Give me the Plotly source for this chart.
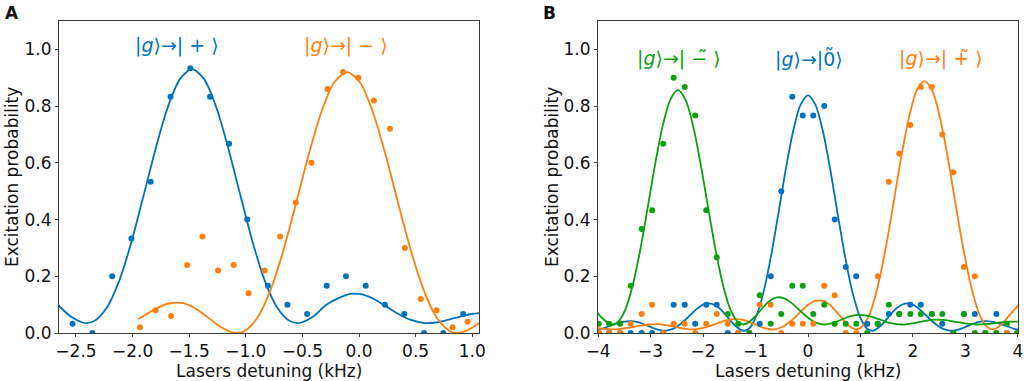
import plotly.graph_objects as go

BLUE = "#0072BD"
ORANGE = "#FF7F0E"
GREEN = "#0CA00C"

# ---------------- Panel A : measured points ----------------
kA_blue_pts = [-2.53, -2.355, -2.18, -2.01, -1.84, -1.665, -1.49, -1.315, -1.148, -0.987, -0.805,
               -0.632, -0.458, -0.285, -0.115, 0.059, 0.229, 0.40, 0.575, 0.745, 0.92]
pA_blue_pts = [0.033, 0.0, 0.20, 0.333, 0.533, 0.833, 0.933, 0.833, 0.667, 0.40, 0.167,
               0.10, 0.067, 0.167, 0.20, 0.167, 0.10, 0.067, 0.0, 0.0, 0.067]

kA_orange_pts = [-1.935, -1.797, -1.66, -1.518, -1.383, -1.245, -1.107, -0.975, -0.834, -0.696, -0.558,
                 -0.42, -0.279, -0.141, -0.006, 0.132, 0.273, 0.405, 0.546, 0.685, 0.826, 0.96]
pA_orange_pts = [0.02, 0.08, 0.06, 0.24, 0.34, 0.22, 0.24, 0.14, 0.22, 0.34, 0.46,
                 0.60, 0.86, 0.92, 0.90, 0.82, 0.72, 0.30, 0.12, 0.08, 0.02, 0.04]

kA_blue_fit = [-2.656, -2.549, -2.442, -2.405, -2.334, -2.227, -2.119, -2.012, -1.905, -1.797, -1.690,
               -1.582, -1.475, -1.368, -1.260, -1.153, -1.045, -0.938, -0.831, -0.723, -0.616, -0.545,
               -0.508, -0.401, -0.294, -0.186, -0.079, 0.029, 0.136, 0.243, 0.351, 0.458, 0.566, 0.605,
               0.673, 0.780, 0.888, 0.995, 1.103]
pA_blue_fit = [0.098, 0.059, 0.037, 0.035, 0.043, 0.090, 0.183, 0.318, 0.481, 0.649, 0.795,
               0.895, 0.930, 0.895, 0.795, 0.649, 0.481, 0.318, 0.183, 0.090, 0.043, 0.035,
               0.037, 0.059, 0.098, 0.122, 0.138, 0.136, 0.119, 0.093, 0.066, 0.046, 0.036, 0.035,
               0.037, 0.046, 0.057, 0.067, 0.071]

kA_orange_fit = [-1.950, -1.907, -1.794, -1.681, -1.569, -1.456, -1.344, -1.231, -1.118, -1.080, -1.006,
                 -0.893, -0.781, -0.668, -0.555, -0.443, -0.330, -0.218, -0.105, 0.008, 0.120, 0.233,
                 0.345, 0.458, 0.571, 0.683, 0.796, 0.870, 0.908, 1.021, 1.134]
pA_orange_fit = [0.049, 0.059, 0.086, 0.104, 0.106, 0.089, 0.058, 0.024, 0.002, 0.0, 0.008,
                 0.056, 0.152, 0.291, 0.459, 0.631, 0.782, 0.884, 0.920, 0.884, 0.782, 0.631,
                 0.459, 0.291, 0.152, 0.056, 0.008, 0.0, 0.002, 0.024, 0.058]

# ---------------- Panel B : measured points ----------------
kB_pts = [-3.99, -3.79, -3.58, -3.38, -3.17, -2.97, -2.76, -2.56, -2.35, -2.15,
          -1.94, -1.74, -1.53, -1.33, -1.12, -0.92, -0.71, -0.51, -0.30, -0.10,
          0.10, 0.31, 0.51, 0.72, 0.92, 1.13, 1.33, 1.54, 1.74, 1.95,
          2.15, 2.36, 2.56, 2.77, 2.97, 3.18, 3.38, 3.59, 3.79, 3.99]
pB_green_pts = [0.033, 0.033, 0.033, 0.167, 0.367, 0.433, 0.667, 0.90, 0.867, 0.767,
                0.433, 0.267, 0.067, 0.033, 0.0, 0.133, 0.033, 0.067, 0.167, 0.167,
                0.067, 0.10, 0.033, 0.033, 0.033, 0.0, 0.033, 0.10, 0.067, 0.067,
                0.067, 0.067, 0.067, 0.0, 0.067, 0.0, 0.0, 0.0, 0.033, 0.0]
pB_blue_pts = [0.0, 0.0, 0.0, 0.0, 0.0, 0.0, 0.0, 0.10, 0.10, 0.033,
               0.10, 0.10, 0.0, 0.0, 0.0, 0.033, 0.20, 0.50, 0.833, 0.767,
               0.767, 0.80, 0.40, 0.233, 0.20, 0.033, 0.033, 0.067, 0.067, 0.10,
               0.10, 0.067, 0.033, 0.0, 0.067, 0.067, 0.0, 0.067, 0.0, 0.0]
pB_orange_pts = [0.0, 0.0, 0.0, 0.033, 0.067, 0.10, 0.0, 0.033, 0.033, 0.0,
                 0.033, 0.067, 0.033, 0.0, 0.0, 0.10, 0.10, 0.0, 0.033, 0.033,
                 0.033, 0.167, 0.133, 0.0, 0.0, 0.0, 0.20, 0.533, 0.633, 0.733,
                 0.867, 0.867, 0.70, 0.567, 0.233, 0.20, 0.0, 0.0, 0.0, 0.0]

kB_green_fit = [-4.064, -3.920, -3.776, -3.727, -3.632, -3.488, -3.344, -3.200, -3.056, -2.912, -2.768,
                -2.624, -2.480, -2.336, -2.192, -2.048, -1.904, -1.760, -1.616, -1.472, -1.328, -1.233,
                -1.184, -1.040, -0.896, -0.752, -0.608, -0.464, -0.320, -0.176, -0.032, 0.112, 0.256,
                0.309, 0.400, 0.544, 0.688, 0.832, 0.976, 1.120, 1.264, 1.408, 1.552, 1.696, 1.780,
                1.840, 1.984, 2.128, 2.272, 2.416, 2.560, 2.704, 2.848, 2.992, 3.136, 3.235, 3.424,
                3.568, 3.712, 3.856, 4.000]
pB_green_fit = [0.082, 0.052, 0.032, 0.030, 0.037, 0.080, 0.166, 0.291, 0.442, 0.597, 0.732,
                0.823, 0.856, 0.823, 0.732, 0.597, 0.442, 0.291, 0.166, 0.080, 0.037, 0.030,
                0.032, 0.052, 0.082, 0.110, 0.125, 0.123, 0.107, 0.083, 0.059, 0.040, 0.031,
                0.030, 0.032, 0.040, 0.051, 0.060, 0.064, 0.061, 0.054, 0.045, 0.036, 0.031, 0.030,
                0.030, 0.034, 0.039, 0.044, 0.047, 0.046, 0.043, 0.038, 0.034, 0.031, 0.030, 0.032,
                0.035, 0.038, 0.040, 0.040]

kB_blue_fit = [-4.089, -3.948, -3.807, -3.666, -3.525, -3.384, -3.243, -3.102, -2.961, -2.820, -2.730,
               -2.679, -2.538, -2.397, -2.256, -2.115, -1.974, -1.833, -1.692, -1.551, -1.410, -1.269,
               -1.221, -1.128, -0.987, -0.846, -0.705, -0.564, -0.423, -0.282, -0.141, 0.0,
               0.141, 0.282, 0.423, 0.564, 0.705, 0.846, 0.987, 1.128, 1.221, 1.269, 1.410, 1.551,
               1.692, 1.833, 1.974, 2.115, 2.256, 2.397, 2.538, 2.679, 2.730, 2.820, 2.961, 3.102,
               3.243, 3.384, 3.525, 3.666, 3.807, 3.948, 4.089]
pB_blue_fit = [0.009, 0.014, 0.023, 0.032, 0.039, 0.042, 0.038, 0.029, 0.018, 0.010, 0.008,
               0.009, 0.018, 0.037, 0.061, 0.086, 0.102, 0.103, 0.088, 0.060, 0.030, 0.010,
               0.008, 0.015, 0.059, 0.145, 0.271, 0.422, 0.578, 0.713, 0.805, 0.838,
               0.805, 0.713, 0.578, 0.422, 0.271, 0.145, 0.059, 0.015, 0.008, 0.010, 0.030, 0.060,
               0.088, 0.103, 0.102, 0.086, 0.061, 0.037, 0.018, 0.009, 0.008, 0.010, 0.018, 0.029,
               0.038, 0.042, 0.039, 0.032, 0.023, 0.014, 0.009]

kB_orange_fit = [-4.063, -3.914, -3.717, -3.614, -3.465, -3.315, -3.166, -3.016, -2.866, -2.717, -2.567,
                 -2.418, -2.268, -2.205, -2.118, -1.969, -1.819, -1.670, -1.520, -1.370, -1.221, -1.071,
                 -0.922, -0.772, -0.677, -0.622, -0.473, -0.323, -0.174, -0.024, 0.126, 0.275, 0.425,
                 0.574, 0.724, 0.874, 0.924, 1.023, 1.173, 1.322, 1.472, 1.622, 1.771, 1.921, 2.070,
                 2.220, 2.370, 2.519, 2.669, 2.818, 2.968, 3.118, 3.267, 3.417, 3.516, 3.566, 3.716,
                 3.866, 4.015]
pB_orange_fit = [0.018, 0.015, 0.013, 0.014, 0.017, 0.022, 0.027, 0.030, 0.031, 0.028, 0.023,
                 0.017, 0.013, 0.013, 0.014, 0.019, 0.028, 0.038, 0.046, 0.049, 0.045, 0.035,
                 0.023, 0.015, 0.013, 0.014, 0.023, 0.043, 0.069, 0.095, 0.112, 0.114, 0.098,
                 0.068, 0.036, 0.015, 0.013, 0.021, 0.066, 0.158, 0.290, 0.449, 0.614, 0.756, 0.854,
                 0.888, 0.854, 0.756, 0.614, 0.449, 0.290, 0.158, 0.066, 0.021, 0.013, 0.015, 0.036,
                 0.068, 0.098]

xA_ticks = [-2.5, -2.0, -1.5, -1.0, -0.5, 0.0, 0.5, 1.0]
xB_ticks = [-4, -3, -2, -1, 0, 1, 2, 3, 4]
y_ticks = [0.0, 0.2, 0.4, 0.6, 0.8, 1.0]

fig = go.Figure()


def add_curve(x, y, color, xa, ya):
    fig.add_trace(go.Scatter(x=x, y=y, mode="lines", xaxis=xa, yaxis=ya,
                             line=dict(color=color, width=1.8, shape="spline", smoothing=0.8),
                             hoverinfo="skip", showlegend=False))


def add_pts(x, y, color, xa, ya):
    fig.add_trace(go.Scatter(x=x, y=y, mode="markers", xaxis=xa, yaxis=ya,
                             marker=dict(color=color, size=6, line=dict(width=0)),
                             showlegend=False))


add_curve(kA_blue_fit, pA_blue_fit, BLUE, "x", "y")
add_curve(kA_orange_fit, pA_orange_fit, ORANGE, "x", "y")
add_pts(kA_blue_pts, pA_blue_pts, BLUE, "x", "y")
add_pts(kA_orange_pts, pA_orange_pts, ORANGE, "x", "y")

add_curve(kB_blue_fit, pB_blue_fit, BLUE, "x2", "y2")
add_curve(kB_orange_fit, pB_orange_fit, ORANGE, "x2", "y2")
add_curve(kB_green_fit, pB_green_fit, GREEN, "x2", "y2")
add_pts(kB_pts, pB_blue_pts, BLUE, "x2", "y2")
add_pts(kB_pts, pB_orange_pts, ORANGE, "x2", "y2")
add_pts(kB_pts, pB_green_pts, GREEN, "x2", "y2")

W, H = 1024, 381
axA = (59, 479)
axB = (598, 1018)
top, bot = 21, 333
ydom = [1 - bot / H, 1 - top / H]

FONT = "DejaVu Sans"
axis_common = dict(showline=True, mirror=True, linecolor="#3a3a3a", linewidth=1.1,
                   ticks="outside", ticklen=3, tickwidth=1.1, tickcolor="#3a3a3a",
                   showgrid=False, zeroline=False, ticklabeloverflow="allow",
                   tickfont=dict(family=FONT, size=17, color="#111111"))

fig.update_layout(
    width=W, height=H,
    margin=dict(l=0, r=0, t=0, b=0, autoexpand=False),
    paper_bgcolor="white", plot_bgcolor="white",
    showlegend=False,
    xaxis=dict(domain=[axA[0] / W, axA[1] / W], range=[-2.65, 1.06], anchor="y",
               tickvals=xA_ticks, tickformat=".1f", **axis_common),
    yaxis=dict(domain=ydom, range=[0, 1.1], anchor="x",
               tickvals=y_ticks, tickformat=".1f", **axis_common),
    xaxis2=dict(domain=[axB[0] / W, axB[1] / W], range=[-4.003, 4.003], anchor="y2",
                tickvals=xB_ticks, tickformat="d", **axis_common),
    yaxis2=dict(domain=ydom, range=[0, 1.1], anchor="x2",
                tickvals=y_ticks, tickformat=".1f", **axis_common),
)

anns = []


def txt(x, y, s, size, color="#111111", angle=0):
    anns.append(dict(x=x / W, y=1 - y / H, xref="paper", yref="paper", text=s,
                     showarrow=False, textangle=angle, xanchor="center", yanchor="middle",
                     borderpad=0, font=dict(family=FONT, size=size, color=color)))


txt(12, 13, "<b>A</b>", 17)
txt(549, 13, "<b>B</b>", 17)
txt(12, 177, "Excitation probability", 17, angle=-90)
txt(552, 177, "Excitation probability", 17, angle=-90)
txt(269, 370.5, "Lasers detuning (kHz)", 17)
txt(808, 370.5, "Lasers detuning (kHz)", 17)

TIL = "\u0303"
txt(177, 45, "|<i>g</i>⟩→| + ⟩", 19, BLUE)
txt(346, 45, "|<i>g</i>⟩→| − ⟩", 19, ORANGE)
txt(679, 58, "|<i>g</i>⟩→| −" + TIL + " ⟩", 19, GREEN)
txt(809, 58, "|<i>g</i>⟩→|0" + TIL + "⟩", 19, BLUE)
txt(941, 58, "|<i>g</i>⟩→| +" + TIL + " ⟩", 19, ORANGE)

fig.update_layout(annotations=anns)
fig.write_html("out.html", config={"displayModeBar": False},
               post_script="document.body.style.margin='0';")
